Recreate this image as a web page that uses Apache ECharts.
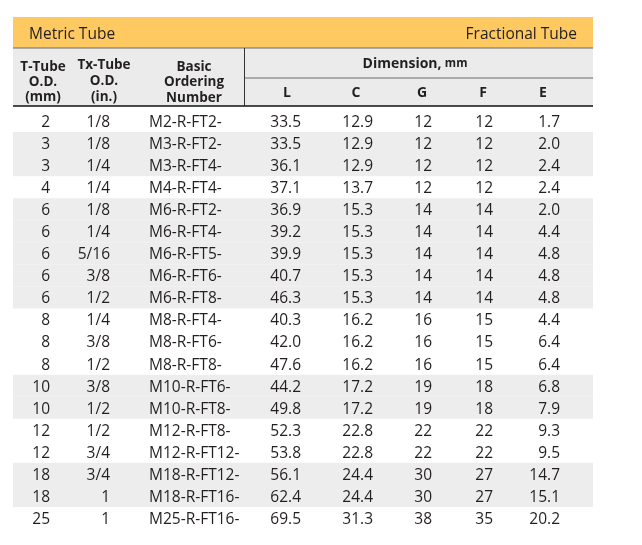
<!DOCTYPE html>
<html>
<head>
<meta charset="utf-8">
<script src="https://cdn.jsdelivr.net/npm/echarts@6/dist/echarts.min.js"></script>
<style>
  html, body { margin: 0; padding: 0; background: #fff; }
  #main { width: 642px; height: 545px; }
</style>
</head>
<body>
<div id="main"></div>
<script>
// table data
const tubeOD = [2, 3, 3, 4, 6, 6, 6, 6, 6, 8, 8, 8, 10, 10, 12, 12, 18, 18, 25];
const txTubeOD = ['1/8', '1/8', '1/4', '1/4', '1/8', '1/4', '5/16', '3/8', '1/2', '1/4', '3/8', '1/2', '3/8', '1/2', '1/2', '3/4', '3/4', '1', '1'];
const orderNo = ['M2-R-FT2-', 'M3-R-FT2-', 'M3-R-FT4-', 'M4-R-FT4-', 'M6-R-FT2-', 'M6-R-FT4-', 'M6-R-FT5-', 'M6-R-FT6-', 'M6-R-FT8-',
  'M8-R-FT4-', 'M8-R-FT6-', 'M8-R-FT8-', 'M10-R-FT6-', 'M10-R-FT8-', 'M12-R-FT8-', 'M12-R-FT12-', 'M18-R-FT12-', 'M18-R-FT16-', 'M25-R-FT16-'];
const dimL = [33.5, 33.5, 36.1, 37.1, 36.9, 39.2, 39.9, 40.7, 46.3, 40.3, 42.0, 47.6, 44.2, 49.8, 52.3, 53.8, 56.1, 62.4, 69.5];
const dimC = [12.9, 12.9, 12.9, 13.7, 15.3, 15.3, 15.3, 15.3, 15.3, 16.2, 16.2, 16.2, 17.2, 17.2, 22.8, 22.8, 24.4, 24.4, 31.3];
const dimG = [12, 12, 12, 12, 14, 14, 14, 14, 14, 16, 16, 16, 19, 19, 22, 22, 30, 30, 38];
const dimF = [12, 12, 12, 12, 14, 14, 14, 14, 14, 15, 15, 15, 18, 18, 22, 22, 27, 27, 35];
const dimE = [1.7, 2.0, 2.4, 2.4, 2.0, 4.4, 4.8, 4.8, 4.8, 4.4, 6.4, 6.4, 6.8, 7.9, 9.3, 9.5, 14.7, 15.1, 20.2];
const dimNames = ['L', 'C', 'G', 'F', 'E'];

// column anchors (x in table units) and alignment
const colX = [37, 97, 136, 288, 360, 419, 480, 547];
const colAlign = ['right', 'right', 'left', 'right', 'right', 'right', 'right', 'right'];
const headX = [274, 343, 409, 470, 530];

const textColor = '#231f20';
const fontFam = 'Open Sans';
const rows = tubeOD.map((d, i) => i);

// shade alternate groups of same T-Tube O.D.
let grp = 0;
const shade = tubeOD.map((d, i) => {
  if (i > 0 && d !== tubeOD[i - 1]) grp++;
  return grp % 2 === 1 ? 580 : '-';
});

function cellText(i) {
  return [String(tubeOD[i]), txTubeOD[i], orderNo[i],
    dimL[i].toFixed(1), dimC[i].toFixed(1), String(dimG[i]), String(dimF[i]), dimE[i].toFixed(1)];
}

const chart = echarts.init(document.getElementById('main'));

function headTxt(x, y, text, size, weight, align) {
  return {
    type: 'text', x: x, y: y + 1, silent: true, z: 10,
    style: {
      text: text, fill: textColor, fontFamily: fontFam,
      fontSize: size || 13.5, fontWeight: weight || 'bold',
      align: align || 'center', verticalAlign: 'middle'
    }
  };
}

const graphic = [
  { type: 'rect', shape: { x: 13, y: 17, width: 580, height: 31 }, style: { fill: '#fdc960' }, silent: true },
  { type: 'rect', shape: { x: 13, y: 48, width: 580, height: 58 }, style: { fill: '#ebebec' }, silent: true },
  { type: 'line', shape: { x1: 13, y1: 48, x2: 593, y2: 48 }, style: { stroke: '#6b6b6b', lineWidth: 1 }, silent: true },
  { type: 'line', shape: { x1: 245, y1: 78, x2: 593, y2: 78 }, style: { stroke: '#6b6b6b', lineWidth: 1 }, silent: true },
  { type: 'line', shape: { x1: 244.5, y1: 48, x2: 244.5, y2: 106 }, style: { stroke: '#333', lineWidth: 1 }, silent: true },
  { type: 'line', shape: { x1: 13, y1: 106, x2: 593, y2: 106 }, style: { stroke: '#111', lineWidth: 1.5 }, silent: true },
  headTxt(29, 34, 'Metric Tube', 15.5, 'normal', 'left'),
  headTxt(577, 34, 'Fractional Tube', 15.5, 'normal', 'right'),
  headTxt(43, 66, 'T-Tube'), headTxt(43, 81, 'O.D.'), headTxt(43, 96, '(mm)'),
  headTxt(104, 64, 'Tx-Tube'), headTxt(104, 80, 'O.D.'), headTxt(104, 96, '(in.)'),
  headTxt(194, 66, 'Basic'), headTxt(194, 81, 'Ordering'), headTxt(194, 97, 'Number'),
  {
    type: 'text', x: 415, y: 64, silent: true, z: 10,
    style: {
      text: '{a|Dimension,} {b|mm}', align: 'center', verticalAlign: 'middle',
      rich: {
        a: { fontFamily: fontFam, fontSize: 14, fontWeight: 'bold', fill: textColor },
        b: { fontFamily: fontFam, fontSize: 11.5, fontWeight: 'bold', fill: textColor }
      }
    }
  }
].concat(dimNames.map((n, k) => headTxt(headX[k] + 13, 92, n, 14)));

chart.setOption({
  animation: false,
  graphic: graphic,
  grid: { left: 13, top: 110, width: 580, height: 419 },
  xAxis: { type: 'value', min: 0, max: 580, show: false },
  yAxis: { type: 'category', data: rows, inverse: true, show: false },
  series: [
    {
      type: 'bar',
      data: shade,
      barWidth: '100%',
      itemStyle: { color: '#ededee' },
      silent: true,
      z: 1
    },
    {
      type: 'custom',
      data: rows,
      encode: { y: 0 },
      z: 5,
      renderItem: function (params, api) {
        const i = api.value(0);
        const txt = cellText(i);
        return {
          type: 'group',
          children: txt.map((t, j) => {
            const p = api.coord([colX[j], i]);
            return {
              type: 'text', x: p[0], y: p[1] + 1.5,
              style: {
                text: t, fill: textColor, fontFamily: fontFam, fontSize: 15.5,
                align: colAlign[j], verticalAlign: 'middle'
              }
            };
          })
        };
      }
    }
  ]
});
</script>
</body>
</html>
